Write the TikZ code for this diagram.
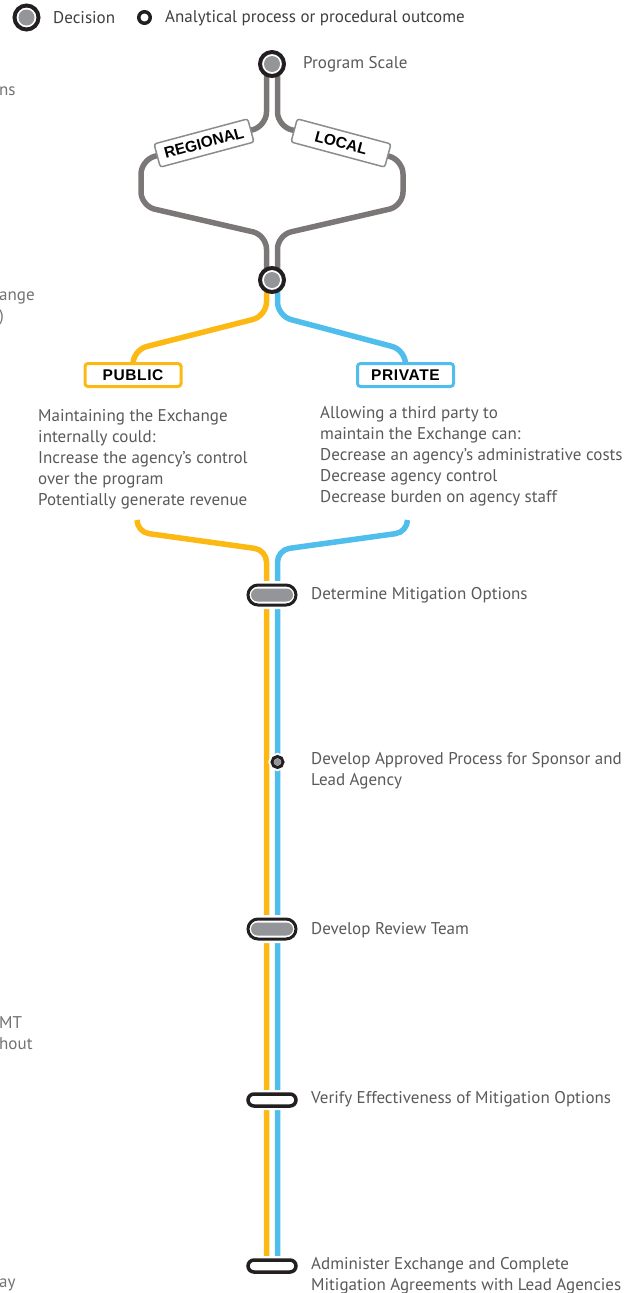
\documentclass[tikz,border=0pt]{standalone}
\usepackage{fontspec}
\setmainfont{PT Sans}
\newfontfamily\tagfont[LetterSpace=4]{Liberation Sans}
\newfontfamily\tiltfont{Liberation Sans}
\usetikzlibrary{positioning}

\definecolor{ink}{HTML}{231F20}
\definecolor{railgray}{HTML}{7C7777}
\definecolor{dotgray}{HTML}{939598}
\definecolor{tagline}{HTML}{8A8C8E}
\definecolor{pubyellow}{HTML}{FDB913}
\definecolor{privblue}{HTML}{4FBEEC}
\definecolor{txtgray}{HTML}{58595B}
\definecolor{keygray}{HTML}{3F3F3F}

\pgfdeclarelayer{rails}
\pgfsetlayers{rails,main}

\begin{document}
\begin{tikzpicture}[x=1pt,y=-1pt,
    decision/.style={circle,draw=ink,line width=4pt,fill=white,inner sep=0pt,minimum size=24pt,
        path picture={\fill[dotgray] (path picture bounding box.center) circle (8pt);}},
    outcome/.style={circle,draw=ink,line width=3.5pt,fill=white,inner sep=0pt,minimum size=11.5pt},
    procdot/.style={circle,draw=ink,line width=3pt,fill=white,inner sep=0pt,minimum size=11pt,
        preaction={draw=white,line width=7pt},
        path picture={\fill[dotgray] (path picture bounding box.center) circle (3.5pt);}},
    decpill/.style={rectangle,rounded corners=10pt,draw=ink,line width=3pt,fill=white,inner sep=0pt,
        minimum width=48pt,minimum height=20pt,preaction={draw=white,line width=8pt},
        path picture={\fill[dotgray,rounded corners=6.5pt]
            ([xshift=-21pt,yshift=-6.5pt]path picture bounding box.center) rectangle
            ([xshift=21pt,yshift=6.5pt]path picture bounding box.center);}},
    procpill/.style={rectangle,rounded corners=6pt,draw=ink,line width=3.5pt,fill=white,inner sep=0pt,
        minimum width=48pt,minimum height=12pt,preaction={draw=white,line width=8pt}},
    tagbox/.style={rectangle,draw=tagline,line width=1.5pt,rounded corners=2.5pt,fill=white,inner sep=0pt,
        minimum width=97pt,minimum height=24pt,font=\tiltfont\bfseries\fontsize{15.5}{15.5}\selectfont},
    sidebox/.style={rectangle,draw=#1,line width=3pt,rounded corners=3pt,fill=white,inner sep=0pt,
        minimum width=96pt,minimum height=23pt,font=\tagfont\bfseries\fontsize{15.5}{15.5}\selectfont},
    stoptext/.style={anchor=west,inner sep=0pt,align=left,text=txtgray,font=\fontsize{17}{21}\selectfont},
    keytext/.style={anchor=west,inner sep=0pt,text=keygray,font=\fontsize{17}{21}\selectfont},
    rail/.style={draw=#1,line width=5.5pt,rounded corners=14pt},
    lowrail/.style={draw=#1,line width=5.5pt,rounded corners=12pt}]

    \useasboundingbox (0,0) rectangle (634,1293);

    % legend
    \node[decision] (legdec) at (26.5,17.5) {};
    \node[keytext] (legdectxt) at (53,18) {Decision};
    \node[outcome] (legout) at (144.5,17.5) {};
    \node[keytext] (legouttxt) at (165,18) {Analytical process or procedural outcome};

    % cut-off column on the left
    \node[stoptext,text=txtgray!85] (cutA) at (-1,91) {ns};
    \node[stoptext,text=txtgray!85] (cutB) at (-1,309) {ange\\)};
    \node[stoptext,text=txtgray!85] (cutC) at (-1,1033) {MT\\hout};
    \node[stoptext,text=txtgray!85] (cutD) at (-1,1285) {ay};

    % program scale
    \node[decision] (scale) at (272,64) {};
    \node[stoptext] (scaletxt) at (303,64) {Program Scale};
    \node[tagbox,rotate=15] (regional) at (204,143) {REGIONAL};
    \node[tagbox,rotate=-15] (local) at (341,143) {LOCAL};
    \node[decision] (choice) at (272,280) {};

    % public / private
    \node[sidebox=pubyellow] (public) at (133,375) {PUBLIC};
    \node[sidebox=privblue] (private) at (405.5,375) {PRIVATE};
    \node[stoptext] (pubtxt) at (38,459) {Maintaining the Exchange\\internally could:\\Increase the agency's control\\over the program\\Potentially generate revenue};
    \node[stoptext] (privtxt) at (320,456) {Allowing a third party to\\maintain the Exchange can:\\Decrease an agency's administrative costs\\Decrease agency control\\Decrease burden on agency staff};
    \coordinate (pubend) at (137,520);
    \coordinate (privend) at (407.5,520);

    % stops
    \node[decpill] (mitig) at (272,595) {};
    \node[stoptext] (mitigtxt) at (311,595) {Determine Mitigation Options};
    \node[procdot] (process) at (277.5,762) {};
    \node[stoptext] (processtxt) at (311,771) {Develop Approved Process for Sponsor and\\Lead Agency};
    \node[decpill] (review) at (272,929) {};
    \node[stoptext] (reviewtxt) at (311,930) {Develop Review Team};
    \node[procpill] (verify) at (272,1100) {};
    \node[stoptext] (verifytxt) at (311,1099) {Verify Effectiveness of Mitigation Options};
    \node[procpill] (admin) at (272,1266) {};
    \node[stoptext] (admintxt) at (311,1276) {Administer Exchange and Complete\\Mitigation Agreements with Lead Agencies};

    \begin{pgfonlayer}{rails}
    % regional / local
    \draw[rail=railgray] ([xshift=-5.5pt]scale.center) -- ++(0,62) -- (141,160) -- (141,206)
        -- (266.5,235) -- ([xshift=-5.5pt]choice.center);
    \draw[rail=railgray] ([xshift=5.5pt]scale.center) -- ++(0,62) -- (403,160) -- (403,206)
        -- (277.5,235) -- ([xshift=5.5pt]choice.center);
    % public / private
    \draw[rail=pubyellow] ([xshift=-5.5pt]choice.center) -- ++(0,36) -- (133,350) -- (public.center);
    \draw[rail=privblue] ([xshift=5.5pt]choice.center) -- ++(0,36) -- (405.5,350) -- (private.center);
    % trunk
    \draw[lowrail=pubyellow] (pubend) -- (137,532) -- (266.5,550) -- ([xshift=-5.5pt]admin.center);
    \draw[lowrail=privblue] (privend) -- (407.5,532) -- (277.5,550) -- ([xshift=5.5pt]admin.center);
    \end{pgfonlayer}
\end{tikzpicture}
\end{document}
